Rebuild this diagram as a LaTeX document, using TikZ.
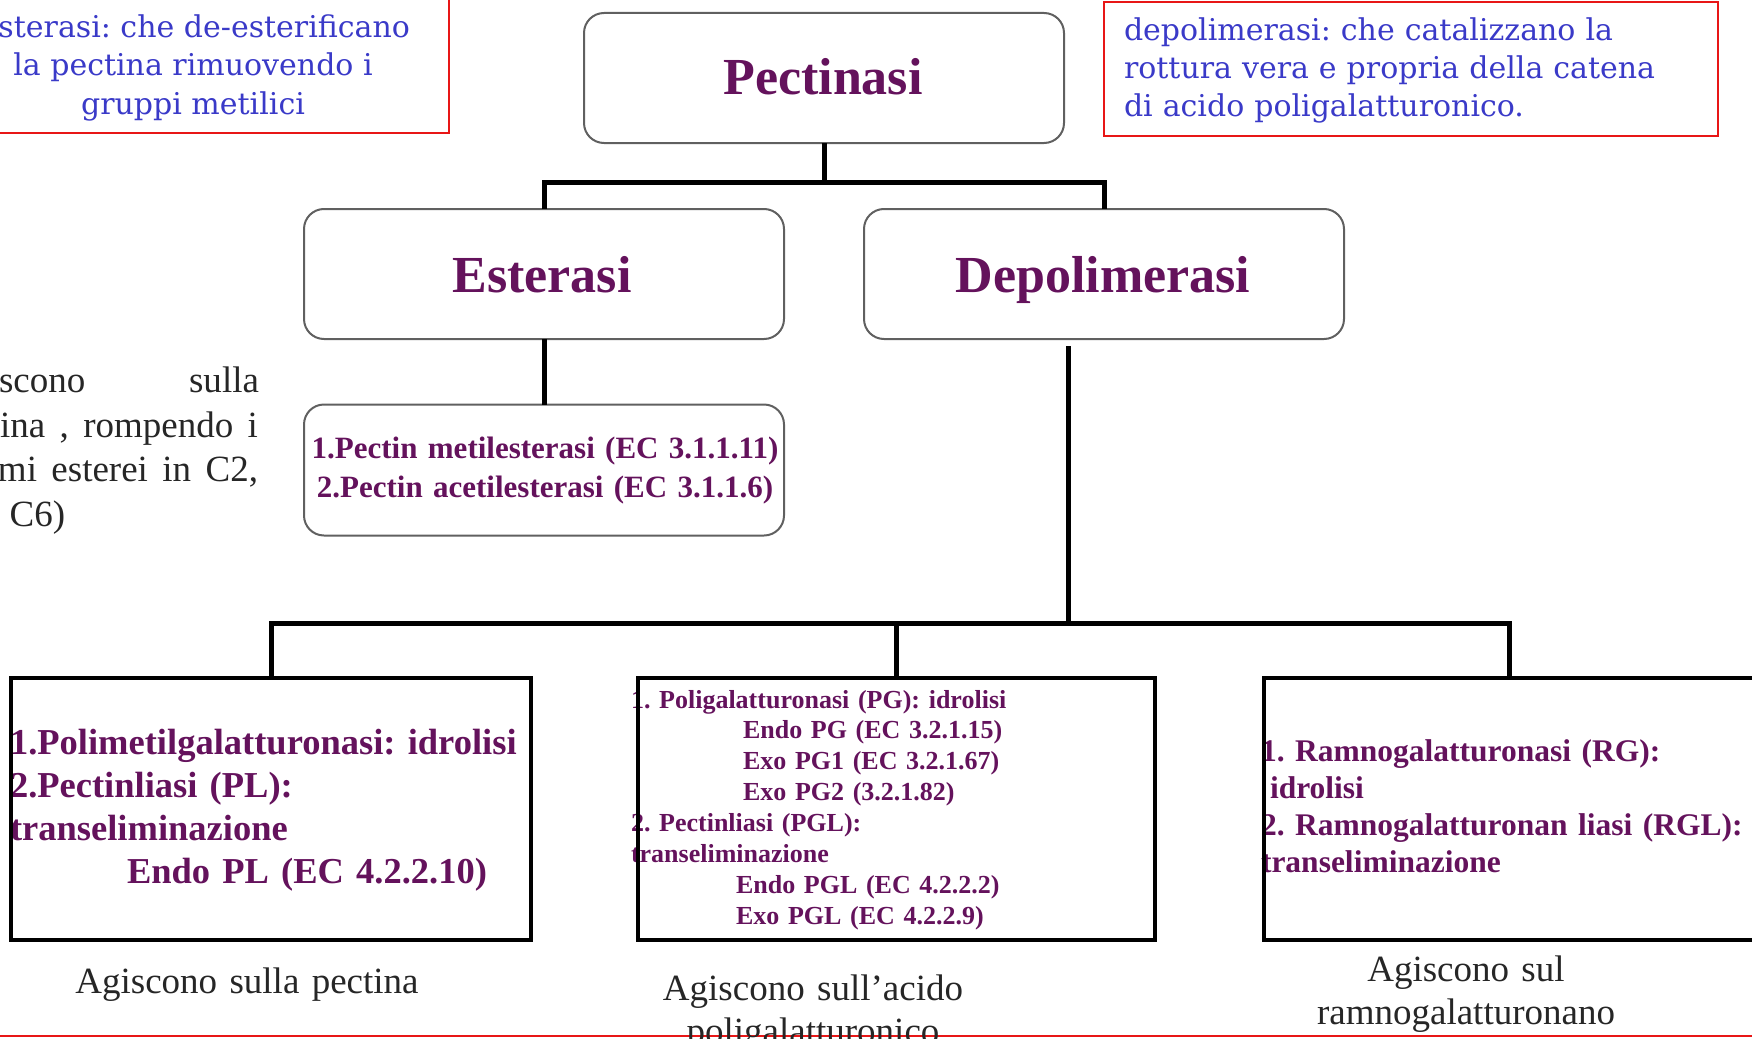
\documentclass[tikz,border=0pt]{standalone}
\usepackage{fontspec}
\setmainfont{Liberation Serif}
\newfontfamily\bluefont{DejaVu Serif}
\definecolor{purp}{RGB}{100,18,92}
\definecolor{noteblue}{RGB}{58,58,200}
\definecolor{notered}{RGB}{232,22,22}
\definecolor{boxgray}{RGB}{96,96,96}
\definecolor{bodygray}{RGB}{38,38,38}
\frenchspacing
\begin{document}
\begin{tikzpicture}[x=1pt,y=-1pt,
  every node/.style={inner sep=0pt,outer sep=0pt},
  tbox/.style={draw=boxgray,line width=2pt,rounded corners=20pt,minimum width=480pt,minimum height=130pt},
  sbox/.style={draw=black,line width=4pt,minimum height=262pt},
  conn/.style={draw=black,line width=5pt},
  note/.style={draw=notered,line width=2pt},
  head/.style={font=\fontsize{52}{60}\selectfont\bfseries,text=purp,anchor=base},
  bluetxt/.style={font=\bluefont\fontsize{30}{38}\selectfont,text=noteblue},
  graytxt/.style={font=\fontsize{37}{43}\selectfont,text=bodygray},
  caption/.style={font=\fontsize{37}{43}\selectfont,text=bodygray,align=center,text width=500pt,anchor=base},
  list/.style={text=purp,align=left,text width=560pt,anchor=base west}
]
\useasboundingbox (0,0) rectangle (1752,1038);
\clip (0,0) rectangle (1752,1038);

% side notes in red frames
\node[note,minimum width=519pt,minimum height=138pt] (noteL) at (189.5,64) {};
\node[bluetxt,anchor=base east] (noteLa) at (410,38) {sterasi: che de-esterificano};
\node[bluetxt,anchor=base] (noteLb) at (193,76) {la pectina rimuovendo i};
\node[bluetxt,anchor=base] (noteLc) at (193,114) {gruppi metilici};

\node[note,minimum width=614pt,minimum height=134pt] (noteR) at (1411,69) {};
\node[bluetxt,anchor=base west,align=left,text width=590pt] (noteRt) at (1124,41)
  {depolimerasi: che catalizzano la\\rottura vera e propria della catena\\di acido poligalatturonico.};

\draw[note] (0,1036) -- (1752,1036);

% body text at the left margin
\node[graytxt,anchor=base west] (g1) at (-1,392) {\makebox[260pt][s]{scono sulla}};
\node[graytxt,anchor=base west] (g2) at (0,437) {\makebox[258pt][s]{ina , rompendo i}};
\node[graytxt,anchor=base west] (g3) at (-2,481.5) {\makebox[260pt][s]{mi esterei in C2,}};
\node[graytxt,anchor=base west] (g4) at (-16,526) {e C6)};

% headings
\node[tbox] (pect) at (824,78) {};
\node[head] (pectT) at (823,95) {Pectinasi};
\node[tbox] (est) at (544,274) {};
\node[head] (estT) at (542,292) {Esterasi};
\node[tbox] (depo) at (1104,274) {};
\node[head] (depoT) at (1103,292) {Depolimerasi};

% esterases
\node[tbox,minimum height=131pt] (estsub) at (544,470) {};
\node[text=purp,font=\fontsize{31}{39}\selectfont\bfseries,align=center,text width=520pt,anchor=base] (estsubT) at (545,458)
  {1.Pectin metilesterasi (EC 3.1.1.11)\\2.Pectin acetilesterasi (EC 3.1.1.6)};

% depolymerase families
\node[list,font=\fontsize{36.5}{43.3}\selectfont\bfseries] (b1T) at (10,754)
  {1.Polimetilgalatturonasi: idrolisi\\2.Pectinliasi (PL):\\transeliminazione\\\hspace*{117pt}Endo PL (EC 4.2.2.10)};
\node[list,font=\fontsize{26}{30.9}\selectfont\bfseries] (b2T) at (631,708)
  {1. Poligalatturonasi (PG): idrolisi\\\hspace*{112pt}Endo PG (EC 3.2.1.15)\\\hspace*{112pt}Exo PG1 (EC 3.2.1.67)\\\hspace*{112pt}Exo PG2 (3.2.1.82)\\2. Pectinliasi (PGL):\\transeliminazione\\\hspace*{105pt}Endo PGL (EC 4.2.2.2)\\\hspace*{105pt}Exo PGL (EC 4.2.2.9)};
\node[list,font=\fontsize{31.5}{37.3}\selectfont\bfseries] (b3T) at (1261,761)
  {1. Ramnogalatturonasi (RG):\\\hspace*{9pt}idrolisi\\2. Ramnogalatturonan liasi (RGL):\\transeliminazione};

\node[sbox,minimum width=520pt] (b1) at (271,809) {};
\node[sbox,minimum width=517pt] (b2) at (896.5,809) {};
\node[sbox,minimum width=520pt] (b3) at (1524,809) {};

% captions under the boxes
\node[caption] (c1) at (247,993) {Agiscono sulla pectina};
\node[caption] (c2) at (813,1000) {Agiscono sull’acido\\poligalatturonico};
\node[caption] (c3) at (1466,981) {Agiscono sul\\ramnogalatturonano};

% tree connectors
\draw[conn] (pect.south) -- ++(0,39);
\draw[conn] (est.north) -- ++(0,-27) -| (depo.north);
\draw[conn] (est.south) -- (estsub.north);
\draw[conn] ([xshift=-36pt,yshift=-7pt]depo.south) -- ++(0,277);
\draw[conn] (b1.north) -- ++(0,-55) -| ([xshift=-15pt]b3.north);
\draw[conn] (b2.north) -- ++(0,-55);
\end{tikzpicture}
\end{document}
